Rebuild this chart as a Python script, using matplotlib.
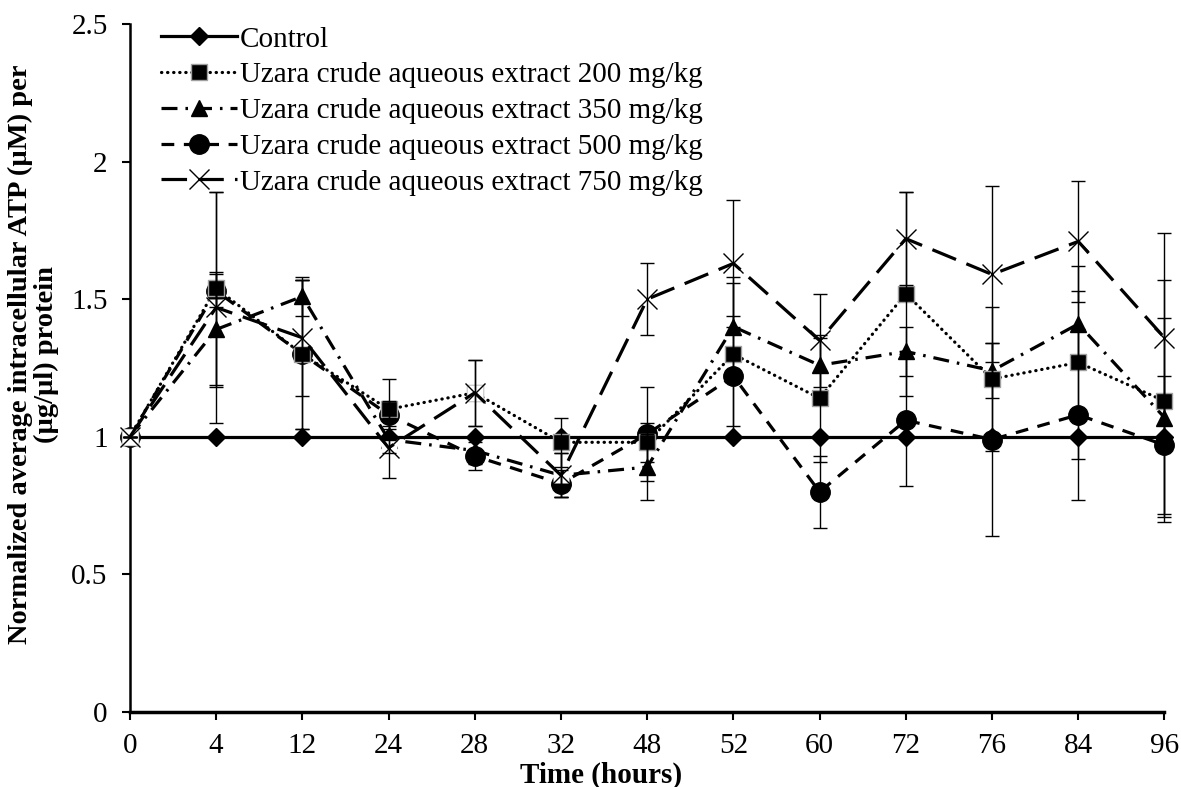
import numpy as np
import matplotlib
matplotlib.use('Agg')
import matplotlib.pyplot as plt

plt.rcParams['font.family'] = ['Liberation Serif', 'DejaVu Serif']

# hours (categorical axis, evenly spaced)
hours = ['0', '4', '12', '24', '28', '32', '48', '52', '60', '72', '76', '84', '96']

control = [1, 1, 1, 1, 1, 1, 1, 1, 1, 1, 1, 1, 1]
uz200 = [1, 1.54, 1.30, 1.10, 1.16, 0.98, 0.98, 1.30, 1.14, 1.52, 1.21, 1.27, 1.13]
uz350 = [1, 1.39, 1.51, 0.99, 0.95, 0.86, 0.89, 1.40, 1.26, 1.31, 1.24, 1.41, 1.07]
uz500 = [1, 1.53, 1.30, 1.08, 0.93, 0.83, 1.01, 1.22, 0.80, 1.06, 0.99, 1.08, 0.97]
uz750 = [1, 1.47, 1.36, 0.96, 1.16, 0.86, 1.50, 1.63, 1.35, 1.72, 1.59, 1.71, 1.36]

# error bars (+/-)
err200 = [0, 0.35, 0.27, 0.11, 0.12, 0.09, 0.07, 0.26, 0.23, 0.37, 0.26, 0.35, 0.44]
err350 = [0, 0.21, 0.07, 0.05, 0.05, 0.08, 0.12, 0.18, 0.10, 0.09, 0.10, 0.12, 0.36]
err500 = [0, 0.06, 0.27, 0.05, 0.05, 0.05, 0.17, 0.22, 0.13, 0.24, 0.35, 0.31, 0.25]
err750 = [0, 0.42, 0.21, 0.11, 0.12, 0.08, 0.13, 0.23, 0.17, 0.17, 0.32, 0.22, 0.38]

labels = ['Control',
          'Uzara crude aqueous extract 200 mg/kg',
          'Uzara crude aqueous extract 350 mg/kg',
          'Uzara crude aqueous extract 500 mg/kg',
          'Uzara crude aqueous extract 750 mg/kg']

x = np.arange(len(hours))

fig = plt.figure(figsize=(11.81, 7.87), dpi=100)
ax = fig.add_axes([0.110, 0.0953, 0.876, 0.8742])

lw = 2.3
h_ctrl, = ax.plot(x, control, color='black', lw=lw, marker='D', ms=9,
                  label=labels[0], zorder=2, clip_on=False)
h350, = ax.plot(x, uz350, color='black', lw=lw, linestyle=(0, (5, 2.5, 0.8, 2.5)),
                marker='^', ms=12, label=labels[2], zorder=3, clip_on=False)
h500, = ax.plot(x, uz500, color='black', lw=lw, linestyle=(0, (4, 3)),
                marker='o', ms=14, label=labels[3], zorder=4, clip_on=False)
h200, = ax.plot(x, uz200, color='black', lw=lw, linestyle=(0, (0.1, 1.8)),
                dash_capstyle='round', marker='s', ms=12, mfc='black',
                mec='#a0a0a0', mew=1, label=labels[1], zorder=5, clip_on=False)
# white box behind the X markers
ax.plot(x, uz750, linestyle='none', marker='s', ms=11, mfc='white', mec='none',
        zorder=6, clip_on=False)
h750, = ax.plot(x, uz750, color='black', lw=lw, linestyle=(0, (8, 3.5)),
                marker='x', ms=15, mew=1, label=labels[4], zorder=6, clip_on=False)

for vals, errs in [(uz200, err200), (uz350, err350), (uz500, err500), (uz750, err750)]:
    eb = ax.errorbar(x, vals, yerr=errs, fmt='none', ecolor='black', elinewidth=1,
                     capsize=5, capthick=1, zorder=7)
    for art in eb.lines[1] + eb.lines[2]:
        art.set_clip_on(False)

ax.set_xlim(0, 12)
ax.set_ylim(0, 2.5)
ax.set_xticks(x)
ax.set_xticklabels(hours)
ax.set_yticks([0, 0.5, 1, 1.5, 2, 2.5])
ax.set_yticklabels(['0', '0.5', '1', '1.5', '2', '2.5'])
ax.tick_params(axis='both', labelsize=21, length=6, width=1.5, direction='out')
ax.tick_params(axis='x', pad=9)
ax.tick_params(axis='y', pad=10)

for s in ['top', 'right']:
    ax.spines[s].set_visible(False)
ax.spines['left'].set_linewidth(1.8)
ax.spines['bottom'].set_linewidth(2.5)

ax.set_xlabel('Time (hours)', fontsize=21, fontweight='bold', labelpad=0)
ax.xaxis.set_label_coords(0.455, -0.072)
ax.set_ylabel('Normalized average intracellular ATP (µM) per\n(µg/µl) protein',
              fontsize=20.5, fontweight='bold', linespacing=1.0, labelpad=8)
ax.yaxis.set_label_coords(-0.069, 0.52)

ax.legend(handles=[h_ctrl, h200, h350, h500, h750], loc='upper left',
          bbox_to_anchor=(0.005, 1.035), frameon=False, fontsize=21,
          handlelength=2.6, handletextpad=0.1, labelspacing=0.32)

fig.savefig('out.png', dpi=100)
